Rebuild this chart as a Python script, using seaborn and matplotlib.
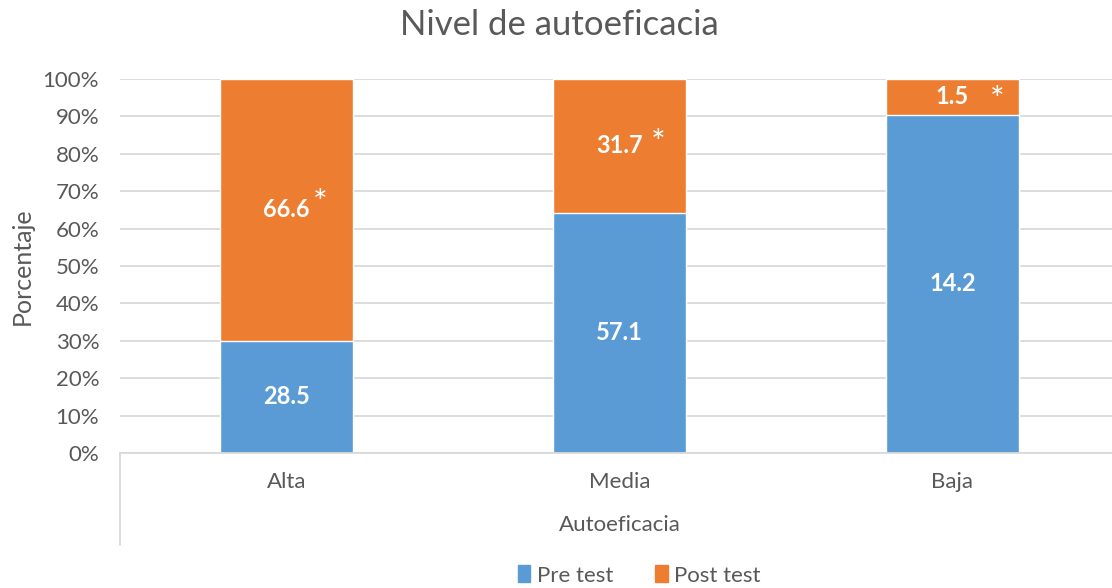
import numpy as np
import pandas as pd
import seaborn as sns
import matplotlib.pyplot as plt
from matplotlib.patches import Patch

categorias = ["Alta", "Media", "Baja"]
pre_test = [28.5, 57.1, 14.2]
post_test = [66.6, 31.7, 1.5]
marcas = ["*", "*", "*"]

azul = "#5B9BD5"
naranja = "#ED7D31"
gris_texto = "#595959"
gris_linea = "#D9D9D9"

# desplazamiento del asterisco respecto a la etiqueta (puntos)
offs_ast = [(24, 4), (28, 1), (32, -3)]

df = pd.DataFrame({"cat": categorias, "pre": pre_test, "post": post_test})
df["total"] = df["pre"] + df["post"]
df["pre_pct"] = df["pre"] / df["total"] * 100
df["tope"] = 100.0

sns.set_theme(style="white")
plt.rcParams["font.family"] = ["Lato", "DejaVu Sans"]

fig = plt.figure(figsize=(11.12, 5.88), dpi=100)
ax = fig.add_axes([120 / 1112, 1 - 453 / 588, 999 / 1112, 374 / 588])

# 100% apilado: barra completa naranja y encima la parte azul del pre test
sns.barplot(data=df, x="cat", y="tope", color=naranja, width=0.4, ax=ax, saturation=1)
sns.barplot(data=df, x="cat", y="pre_pct", color=azul, width=0.4, ax=ax, saturation=1)

ax.set_ylim(0, 100)
ax.set_xlim(-0.5, 2.5)
ax.set_yticks(np.arange(0, 101, 10))
ax.set_yticklabels([f"{v}%" for v in range(0, 101, 10)], color=gris_texto, fontsize=16)
ax.set_xticks(range(3))
ax.set_xticklabels(categorias, color=gris_texto, fontsize=16)
ax.tick_params(axis="y", length=0, pad=15)
ax.tick_params(axis="x", length=0, pad=14)
ax.yaxis.grid(True, color=gris_linea, linewidth=1.3)
ax.set_axisbelow(True)
for s in ["left", "right", "top"]:
    ax.spines[s].set_visible(False)
ax.spines["bottom"].set_color(gris_linea)
ax.spines["bottom"].set_linewidth(1.3)
ax.plot([0, 0], [0, -92 / 374], transform=ax.transAxes, color=gris_linea,
        lw=1.3, clip_on=False)

ax.set_xlabel("Autoeficacia", color=gris_texto, fontsize=16, labelpad=16)
ax.set_ylabel("")
fig.text(22 / 1112, 1 - 266 / 588, "Porcentaje", rotation=90, ha="center", va="center",
         color=gris_texto, fontsize=18)
fig.text(0.503, 1 - 25 / 588, "Nivel de autoeficacia", ha="center", va="center",
         color=gris_texto, fontsize=25)

for i, row in df.iterrows():
    ax.text(i, row["pre_pct"] / 2, f"{row['pre']:.1f}", ha="center", va="center",
            color="white", fontsize=17, fontweight="bold")
    y_post = (row["pre_pct"] + 100) / 2
    ax.text(i, y_post, f"{row['post']:.1f}", ha="center", va="center",
            color="white", fontsize=17, fontweight="bold")
    ax.annotate(marcas[i], (i, y_post), xytext=offs_ast[i], textcoords="offset points",
                ha="center", va="center", color="white", fontsize=25)

handles = [Patch(color=azul, label="Pre test"), Patch(color=naranja, label="Post test")]
fig.legend(handles=handles, loc="lower center", bbox_to_anchor=(0.575, -0.03), ncol=2,
           frameon=False, fontsize=16, handlelength=0.55, handleheight=0.8,
           handletextpad=0.3, columnspacing=1.9, labelcolor=gris_texto)

fig.savefig("out.png", dpi=100)
